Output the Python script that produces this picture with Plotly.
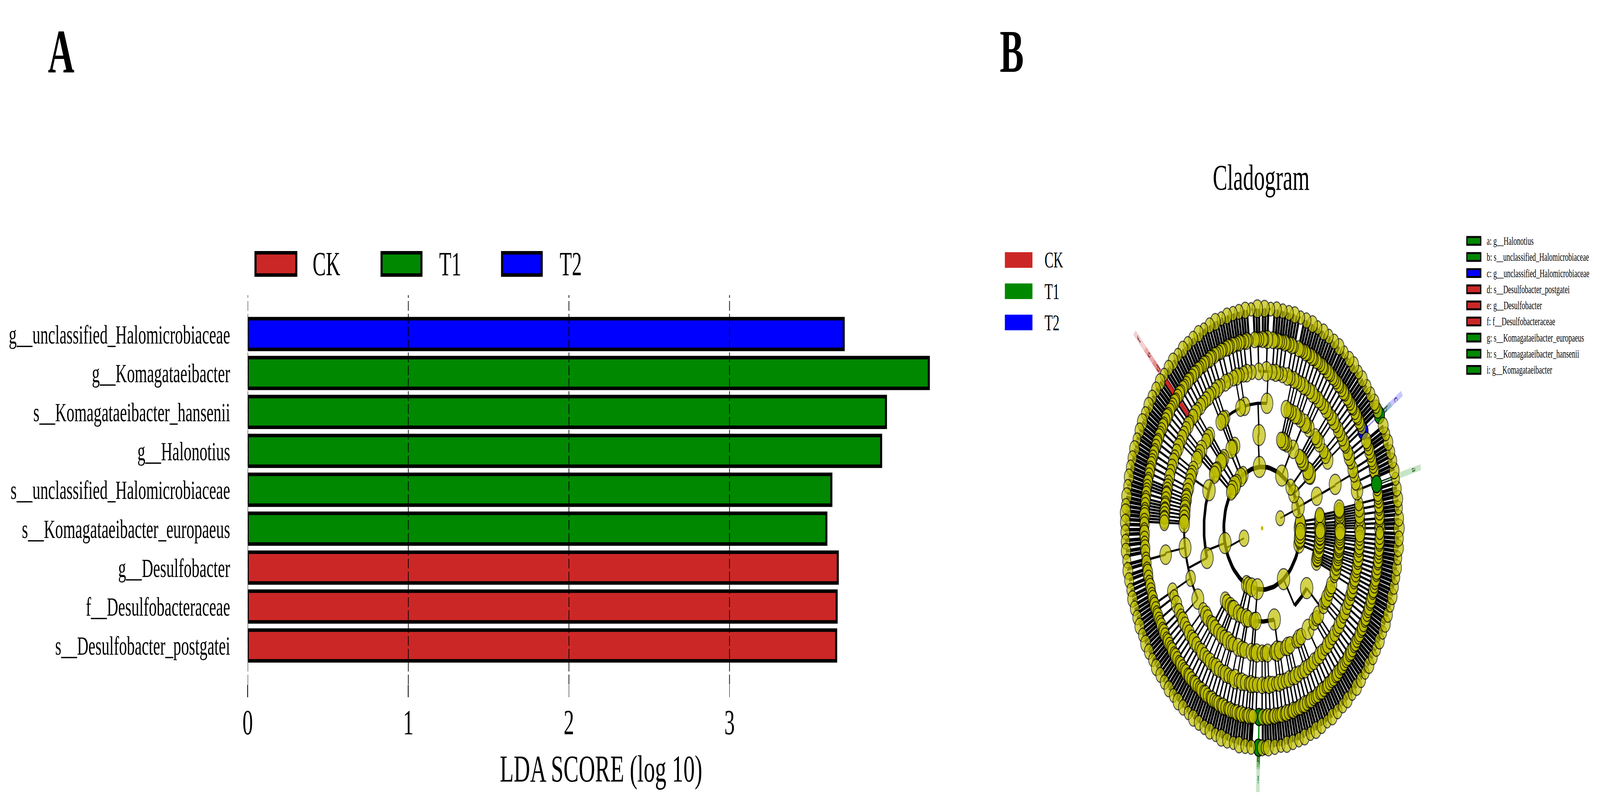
import numpy as np
import plotly.graph_objects as go

W, H = 6904, 2062
FONT = "Liberation Serif"
RED, GREEN, BLUE, YEL = "#cc2727", "#008800", "#0000ff", "#bfbf00"

# ---- Panel A data
TAXA = ["g__unclassified_Halomicrobiaceae", "g__Komagataeibacter", "s__Komagataeibacter_hansenii",
        "g__Halonotius", "s__unclassified_Halomicrobiaceae", "s__Komagataeibacter_europaeus",
        "g__Desulfobacter", "f__Desulfobacteraceae", "s__Desulfobacter_postgatei"]
LDA = [3.711, 4.241, 3.974, 3.944, 3.634, 3.603, 3.674, 3.667, 3.664]
GROUP = ["T2", "T1", "T1", "T1", "T1", "T1", "CK", "CK", "CK"]
GROUP_NAMES = ["CK", "T1", "T2"]
GROUP_COLORS = {"CK": RED, "T1": GREEN, "T2": BLUE}
X_TICKS = [0, 1, 2, 3]

# ---- Panel B data: node angles (degrees) of each ring of the cladogram
L1 = [19, 199]
L2 = [0, 3, 6, 20, 34, 42, 59, 94, 120, 124, 132, 136, 141, 144, 194, 246, 249, 254, 263, 304, 345, 348, 351, 354, 357]
L3 = [0, 1.5, 3, 5, 6.5, 8, 20, 34, 36, 38, 44, 46, 48, 50, 57.7, 65, 67, 69, 71, 93, 118, 120, 122, 131, 133, 135,
      141, 143, 145, 156, 198.6, 230.6, 233, 237, 239, 241, 246, 249, 254, 256, 262, 264, 282, 320,
      339, 340.5, 342, 343.5, 345, 347, 349, 351, 352.5, 354, 355.5, 357, 358.5]
L4 = [0, 1, 2, 3, 4, 5, 6, 7, 8, 9, 20.5, 33, 35.7, 38, 43, 45, 47, 53, 55, 57, 61, 63, 65, 68, 70, 72, 86.5, 103, 106,
      118, 120, 122, 132, 134, 136, 141, 143, 145, 147, 152, 154, 156, 158, 161, 163, 165, 166.5, 168, 169.5, 171,
      172.5, 174, 175.5, 177, 178, 189, 203.6, 214.5, 221, 224, 226, 229, 231, 233, 236, 239, 241, 244, 246.6, 248,
      252, 255, 257, 262, 264, 266, 270, 272, 274, 279, 281, 283, 287, 289, 291, 296, 298, 300, 306, 312, 314, 316,
      322, 324, 326, 329, 331, 333, 338, 340, 342, 343.5, 345, 346.5, 347.6, 349, 350, 351.5, 352, 353.5, 355, 356, 357, 358.5]
L5 = [0, 1.5, 3, 5, 7, 9, 14, 17, 20, 22, 25, 27, 29, 31.5, 33, 35, 37, 39, 41, 43, 45, 47, 49, 51, 53, 55, 57, 59, 61,
      63, 65, 67, 69, 71, 73, 75, 78, 80, 82, 84, 87.5, 92, 96, 99, 101, 103, 105, 107, 110, 112, 115, 117, 119, 121,
      123, 125, 127, 129, 131, 133, 135, 137.5, 139, 141, 143, 145, 147, 149, 151, 153, 155, 157, 159, 161, 163, 165,
      166, 167, 168, 169.5, 171, 172, 173, 174, 175, 176, 177, 178, 189.7, 203.7, 206, 209, 212, 214, 216, 218, 220, 222,
      224, 226, 228, 230, 232, 234, 236, 238, 240, 242, 244, 246, 248, 250, 252, 254, 256, 258, 260, 262, 263.5, 265,
      267, 270, 272, 274, 276, 278, 280, 282, 284, 286, 288, 290, 292, 294, 296, 298, 300, 302, 304, 306, 308, 310,
      312, 314, 316, 318, 320, 322, 324, 326, 328, 330, 332, 334, 335.5, 337, 338.5, 340, 341.5, 343, 344.5, 346,
      347.5, 349, 350.5, 352, 353.5, 355, 356.5, 358]
L6 = [0, 1.2, 2.3, 3.6, 4.8, 5.9, 7.1, 8.4, 9.5, 10.6, 12, 13.5, 15.7, 16.8, 18, 19.3, 20.4, 21.6, 22.7, 24.2, 25.3, 26.4, 27.7,
      32.3, 33.4, 34.6, 35.7, 36.9, 38, 39.3, 40.4, 41.6, 42.7, 43.9, 45.2, 46.3, 47.5, 48.6, 49.8, 51, 52.1, 53.3, 54.4,
      55.7, 56.8, 58, 59.1, 60.3, 61.5, 62.6, 63.8, 65, 66.1, 67.3, 68.4, 69.6, 70.8, 71.9, 74.2, 75.4, 76.6, 77.7, 78.9,
      80.1, 81.2, 82.4, 83.5, 84.7, 87.4, 88.6, 89.7, 91.3, 92.4, 93.6, 96.4, 97.6, 98.7, 99.9, 101.1, 102.2, 103.4, 104.6,
      105.7, 106.9, 108, 109.2, 110.4, 111.5, 112.7, 113.9, 115, 116.2, 117.3, 118.5, 119.7, 120.8, 122, 123.1, 124.3, 125.5,
      126.6, 127.8, 128.9, 130.1, 131.3, 132.4, 133.6, 134.7, 135.9, 137.1, 138.2, 139.4, 140.5, 141.7, 142.9, 144, 145.2,
      146.4, 147.5, 148.7, 149.9, 151, 152.2, 153.3, 154.5, 155.6, 156.8, 158, 159.1, 160.3, 161.4, 162.6, 163.8, 164.9, 166.1,
      167.3, 168.4, 169.6, 170.7, 171.9, 173, 174.2, 175.4, 176.5, 177.7, 179, 180.4, 181.6, 183.2, 184.4, 186, 187.2, 189.5,
      190.7, 192.4, 193.6, 195.2, 196.5, 198, 199.2, 200.6, 201.8, 203, 204.2, 205.4, 206.5, 207.7, 208.9, 210, 211.2, 212.3,
      213.5, 214.6, 215.8, 217, 218.1, 219.3, 220.4, 221.6, 222.8, 223.9, 225.1, 226.3, 227.4, 228.6, 229.7, 230.9, 232,
      233.2, 234.4, 235.5, 236.7, 237.9, 239, 240.2, 241.3, 242.5, 243.7, 244.8, 246, 247.1, 248.3, 249.4, 250.6, 251.8,
      252.9, 254.1, 255.2, 256.4, 257.6, 258.7, 259.9, 261.1, 262.2, 263.4, 264.6, 265.5, 270.3, 271.5, 272.6, 273.8, 275,
      276.1, 277.3, 278.4, 279.6, 280.8, 281.9, 283.1, 284.3, 285.4, 286.6, 287.7, 288.9, 290, 291.2, 292.4, 293.5, 294.7,
      295.9, 297, 298.2, 299.3, 300.5, 301.7, 302.8, 304, 305.1, 306.3, 307.5, 308.6, 309.8, 311, 312.1, 313.3, 314.4, 315.6,
      316.8, 317.9, 319.1, 320.2, 321.4, 322.6, 323.7, 324.9, 326, 327.2, 328.4, 329.5, 330.7, 331.8, 333, 334.2, 335.3,
      336.5, 337.7, 338.8, 340, 341.1, 342.3, 343.4, 344.6, 345.8, 346.9, 348.1, 349.3, 350.4, 351.6, 352.7, 353.9, 355.1,
      356.2, 357.4, 358.6]
L7 = [0, 2.6, 5.3, 7.7, 10.4, 13, 15.2, 17.9, 20.3, 23, 25.4, 27.8, 32.4, 33.6, 35, 37.6, 40.1, 42.9, 45.3, 48, 50.4, 53.1,
      55.7, 58.2, 60.8, 63.3, 66, 68.4, 71.1, 73.6, 76.2, 78.7, 81.3, 83.9, 86.4, 89, 92, 94.6, 97.1, 99.8, 102.3, 104.9, 107.4,
      110, 112.6, 115.2, 117.7, 120.3, 122.9, 125.4, 128, 130.6, 133.1, 135.7, 138.2, 140.8, 143.4, 146, 148.5, 151.1, 153.6,
      156.2, 158.8, 161.4, 163.9, 166.5, 169, 171.6, 174.2, 176, 178.5, 181, 183.5, 186, 188.6, 191.2, 193.7, 196.3, 198.8,
      201.4, 204, 206.5, 209.1, 211.7, 214.2, 216.8, 219.3, 221.9, 224.5, 227, 229.6, 232.1, 234.7, 237.3, 239.8, 242.4, 245,
      247.5, 250.1, 252.6, 255.2, 257.8, 260.3, 262.9, 265.4, 270, 271.3, 272.6, 275.3, 277.9, 280.4, 283, 285.6, 288.1, 290.7,
      293.2, 295.8, 298.4, 300.9, 303.5, 306.1, 308.6, 311.2, 313.7, 316.3, 318.9, 321.4, 324, 326.6, 329.1, 331.7, 334.2, 336.8,
      339.4, 341.9, 344.5, 347.1, 349.6, 352.2, 354.8, 357.3]
LEVELS = [L1, L2, L3, L4, L5, L6, L7]
RADII = [0.135, 0.27, 0.41, 0.55, 0.69, 0.83, 0.965]
BASE_SIZE = [38, 44, 42, 41, 39, 37, 37]
SIZE_VARY = [0, 4, -2, 6, 2, -3, 5, 1]
BIG_SIZE = [38, 54, 54, 52, 50, 46, 46]
BIG = [[], [0, 20, 59, 94, 194, 263, 304], [0, 36, 93, 156, 198.6, 282, 320], [0, 20.5, 86.5, 189, 214.5, 281, 306],
       [0, 14, 87.5, 189.7, 254, 30], [0, 87.4, 355, 176.5, 188], [0, 92, 176, 225, 300, 45]]
ARC_WIDTH = [0, 12, 11, 8, 7, 6, 5]
SPOKE_WIDTH = [5, 6, 6, 5, 6, 9]
BRIDGES = [[], [[94, 120], [263, 304]], [[156, 198.6]], [[177, 189], [189, 203.6]], [], [], []]

CLADE = ["a", "b", "c", "d", "e", "f", "g", "h", "i"]
CLADE_NAMES = ["g__Halonotius", "s__unclassified_Halomicrobiaceae", "g__unclassified_Halomicrobiaceae",
               "s__Desulfobacter_postgatei", "g__Desulfobacter", "f__Desulfobacteraceae",
               "s__Komagataeibacter_europaeus", "s__Komagataeibacter_hansenii", "g__Komagataeibacter"]
CLADE_COLOR = [GREEN, GREEN, BLUE, RED, RED, RED, GREEN, GREEN, GREEN]
CLADE_ANGLE = [13.5, 31, 31, 136.3, 136.3, 136.3, 268.5, 268.5, 268.5]
CLADE_LEVEL = [5, 6, 5, None, None, None, 6, 6, 5]
CLADE_LABEL_R = [1.103, 1.017, 1.103, 1.018, 1.106, 1.202, 1.02, 1.02, 1.105]
CLADE_BAND_R = [1.15, 1.06, 1.15, 1.06, 1.14, 1.245, 1.05, 1.06, 1.16]
LABEL_COLOR = {RED: "#701018", GREEN: "#0a500a", BLUE: "#0a0a80"}
RGBA = {RED: "rgba(204,39,39,0.22)", GREEN: "rgba(0,136,0,0.22)", BLUE: "rgba(0,0,255,0.22)"}


def xy(r, deg):
    t = np.radians(deg)
    return r * np.cos(t), r * np.sin(t)


def px(v):
    return v / W


def py(v):
    return 1 - v / H


fig = go.Figure()

for g in GROUP_NAMES:
    idx = [i for i, n in enumerate(GROUP) if n == g]
    fig.add_trace(go.Bar(x=[LDA[i] for i in idx], y=[TAXA[i] for i in idx], orientation="h", name=g,
                         width=0.79, marker=dict(color=GROUP_COLORS[g], line=dict(color="black", width=9)),
                         xaxis="x", yaxis="y", showlegend=False))

shapes = []
for t in X_TICKS:
    shapes.append(dict(type="line", xref="x", yref="y domain", x0=t, x1=t, y0=0, y1=1, layer="above",
                       line=dict(color="black", width=3, dash="25px,8px")))
for g, (a, b) in zip(GROUP_NAMES, [(1098, 1283), (1642, 1823), (2162, 2342)]):
    shapes.append(dict(type="rect", xref="paper", yref="paper", x0=px(a + 4.5), x1=px(b - 4.5), y0=py(647.5), y1=py(704.5),
                       fillcolor=GROUP_COLORS[g], line=dict(color="black", width=9)))
for i, g in enumerate(GROUP_NAMES):
    top = 646 + 80 * i
    shapes.append(dict(type="rect", xref="paper", yref="paper", x0=px(4336), x1=px(4455), y0=py(top), y1=py(top + 40),
                       fillcolor=GROUP_COLORS[g], line=dict(width=0)))
for i, c in enumerate(CLADE_COLOR):
    cy = 617 + 41.3 * i
    shapes.append(dict(type="rect", xref="paper", yref="paper", x0=px(6329.5), x1=px(6389.5), y0=py(cy - 10), y1=py(cy + 10),
                       fillcolor=c, line=dict(color="black", width=5)))

ann = []


def text(x, y, s, size, anchor="center", **kw):
    ann.append(dict(x=px(x), y=py(y), xref="paper", yref="paper", text=s, showarrow=False, xanchor=anchor, yanchor="middle",
                    font=dict(family=FONT, size=size, color="black"), **kw))


text(264, 132, "<b>A</b>", 158)
text(4365, 132, "<b>B</b>", 155)
text(5442, 454, "Cladogram", 94)
for g, x in zip(GROUP_NAMES, [1347, 1893, 2413]):
    text(x, 676, g, 86, "left")
for i, g in enumerate(GROUP_NAMES):
    text(4505, 666 + 80 * i, g, 58, "left")
for i, (c, n) in enumerate(zip(CLADE, CLADE_NAMES)):
    text(6413, 617 + 41.3 * i, f"{c}: {n}", 29.5, "left")

for c, col, ang, rb, in zip(CLADE, CLADE_COLOR, CLADE_ANGLE, CLADE_BAND_R):
    x, y = xy(np.array([0.99, rb]), ang)
    fig.add_trace(go.Scatter(x=x, y=y, mode="lines", line=dict(color=RGBA[col], width=15), xaxis="x2", yaxis="y2",
                             showlegend=False, hoverinfo="skip"))

for k in range(6):
    ang = np.array(LEVELS[k], float)
    xs, ys = [], []
    for a in ang:
        x, y = xy(np.array([RADII[k], RADII[k + 1]]), a)
        xs += [x[0], x[1], None]
        ys += [y[0], y[1], None]
    fig.add_trace(go.Scatter(x=xs, y=ys, mode="lines", line=dict(color="black", width=SPOKE_WIDTH[k]), xaxis="x2", yaxis="y2",
                             showlegend=False, hoverinfo="skip"))

for k in range(1, 7):
    parents = np.array(LEVELS[k - 1], float)
    kids = np.array(LEVELS[k], float)
    spans = [list(b) for b in BRIDGES[k]]
    delta = (kids[:, None] - parents[None, :] + 180) % 360 - 180
    near = np.argmin(np.abs(delta), axis=1)
    for p in range(len(parents)):
        d = delta[near == p, p]
        if len(d):
            spans.append([parents[p] + min(d.min(), 0), parents[p] + max(d.max(), 0)])
    xs, ys = [], []
    for a, b in spans:
        x, y = xy(RADII[k], np.linspace(a, b, 40))
        xs += list(x) + [None]
        ys += list(y) + [None]
    fig.add_trace(go.Scatter(x=xs, y=ys, mode="lines", line=dict(color="black", width=ARC_WIDTH[k]), xaxis="x2", yaxis="y2",
                             showlegend=False, hoverinfo="skip"))

x, y = xy(np.array([0.69, 0.945]), CLADE_ANGLE[3])
fig.add_trace(go.Scatter(x=x, y=y, mode="lines", line=dict(color=RED, width=13), xaxis="x2", yaxis="y2",
                         showlegend=False, hoverinfo="skip"))
x, y = xy(np.array([RADII[5], RADII[6]]), CLADE_ANGLE[8])
fig.add_trace(go.Scatter(x=x, y=y, mode="lines", line=dict(color=GREEN, width=6), xaxis="x2", yaxis="y2",
                         showlegend=False, hoverinfo="skip"))
x, y = xy(np.array([RADII[5], RADII[6]]), CLADE_ANGLE[2])
fig.add_trace(go.Scatter(x=x, y=y, mode="lines", line=dict(color="#8f8fe0", width=4), xaxis="x2", yaxis="y2",
                         showlegend=False, hoverinfo="skip"))
x, y = xy(np.array([RADII[5], RADII[6]]), CLADE_ANGLE[0])
fig.add_trace(go.Scatter(x=x, y=y, mode="lines", line=dict(color="#9fd0a0", width=4), xaxis="x2", yaxis="y2",
                         showlegend=False, hoverinfo="skip"))

hi = [i for i, l in enumerate(CLADE_LEVEL) if l is not None and i != 0]
hx, hy = xy(np.array([RADII[CLADE_LEVEL[i]] for i in hi]), np.array([CLADE_ANGLE[i] for i in hi]))
fig.add_trace(go.Scatter(x=hx, y=hy, mode="markers", xaxis="x2", yaxis="y2", showlegend=False, hoverinfo="skip",
                         marker=dict(color=[CLADE_COLOR[i] for i in hi], size=44, line=dict(color="black", width=3))))

for k in range(6, -1, -1):
    ang = np.array(LEVELS[k], float)
    x, y = xy(RADII[k], ang)
    sizes = [BIG_SIZE[k] if a in BIG[k] else BASE_SIZE[k] + SIZE_VARY[i % len(SIZE_VARY)] for i, a in enumerate(ang)]
    fig.add_trace(go.Scatter(x=x, y=y, mode="markers", xaxis="x2", yaxis="y2", showlegend=False,
                             marker=dict(color=YEL, size=sizes, line=dict(color="black", width=3))))
fig.add_trace(go.Scatter(x=[0], y=[0], mode="markers", xaxis="x2", yaxis="y2", showlegend=False,
                         marker=dict(color=YEL, size=11, line=dict(color="black", width=0))))
ax, ay = xy(RADII[CLADE_LEVEL[0]], CLADE_ANGLE[0])
fig.add_trace(go.Scatter(x=[ax], y=[ay], mode="markers", xaxis="x2", yaxis="y2", showlegend=False,
                         marker=dict(color=CLADE_COLOR[0], size=44, line=dict(color="black", width=3))))

for c, col, ang, r in zip(CLADE, CLADE_COLOR, CLADE_ANGLE, CLADE_LABEL_R):
    x, y = xy(r, ang)
    ann.append(dict(x=x, y=y, xref="x2", yref="y2", text=c, showarrow=False, textangle=90 - ang,
                    font=dict(family=FONT, size=28, color=LABEL_COLOR[col])))

fig.update_layout(
    width=W, height=H, margin=dict(l=0, r=0, t=0, b=0, autoexpand=False), paper_bgcolor="white", plot_bgcolor="white",
    barmode="overlay", showlegend=False, shapes=shapes, annotations=ann,
    font=dict(family=FONT, color="black"),
    xaxis=dict(domain=[px(1069), px(4118)], range=[0, 4.4], tickvals=X_TICKS, ticks="outside", ticklen=32, tickwidth=3,
               tickcolor="black", showgrid=False, zeroline=False, showline=False, tickfont=dict(family=FONT, size=90),
               ticklabelstandoff=-13, anchor="y",
               title=dict(text="LDA SCORE (log 10)", font=dict(family=FONT, size=98), standoff=34)),
    yaxis=dict(domain=[py(1753), py(756)], type="category", categoryorder="array", categoryarray=TAXA, range=[9, -1],
               ticks="", showgrid=False, zeroline=False, showline=False, tickfont=dict(family=FONT, size=68),
               ticklabelstandoff=75, anchor="x"),
    xaxis2=dict(domain=[px(4650.4), px(6241.6)], range=[-1.3, 1.3], visible=False, anchor="y2"),
    yaxis2=dict(domain=[0, py(595.4)], range=[-1.2165, 1.3], visible=False, anchor="x2"),
)

# Fit the 6904x2062 figure into whatever window the page is opened in.
FIT = """
document.documentElement.style.overflow='hidden';
document.body.style.margin='0';document.body.style.overflow='hidden';
var g=document.querySelector('.plotly-graph-div');
g.style.transformOrigin='0 0';
g.style.transform='scale('+(window.innerWidth/%d)+','+(window.innerHeight/%d)+')';
""" % (W, H)
fig.write_html("out.html", post_script=FIT, config=dict(displayModeBar=False))
